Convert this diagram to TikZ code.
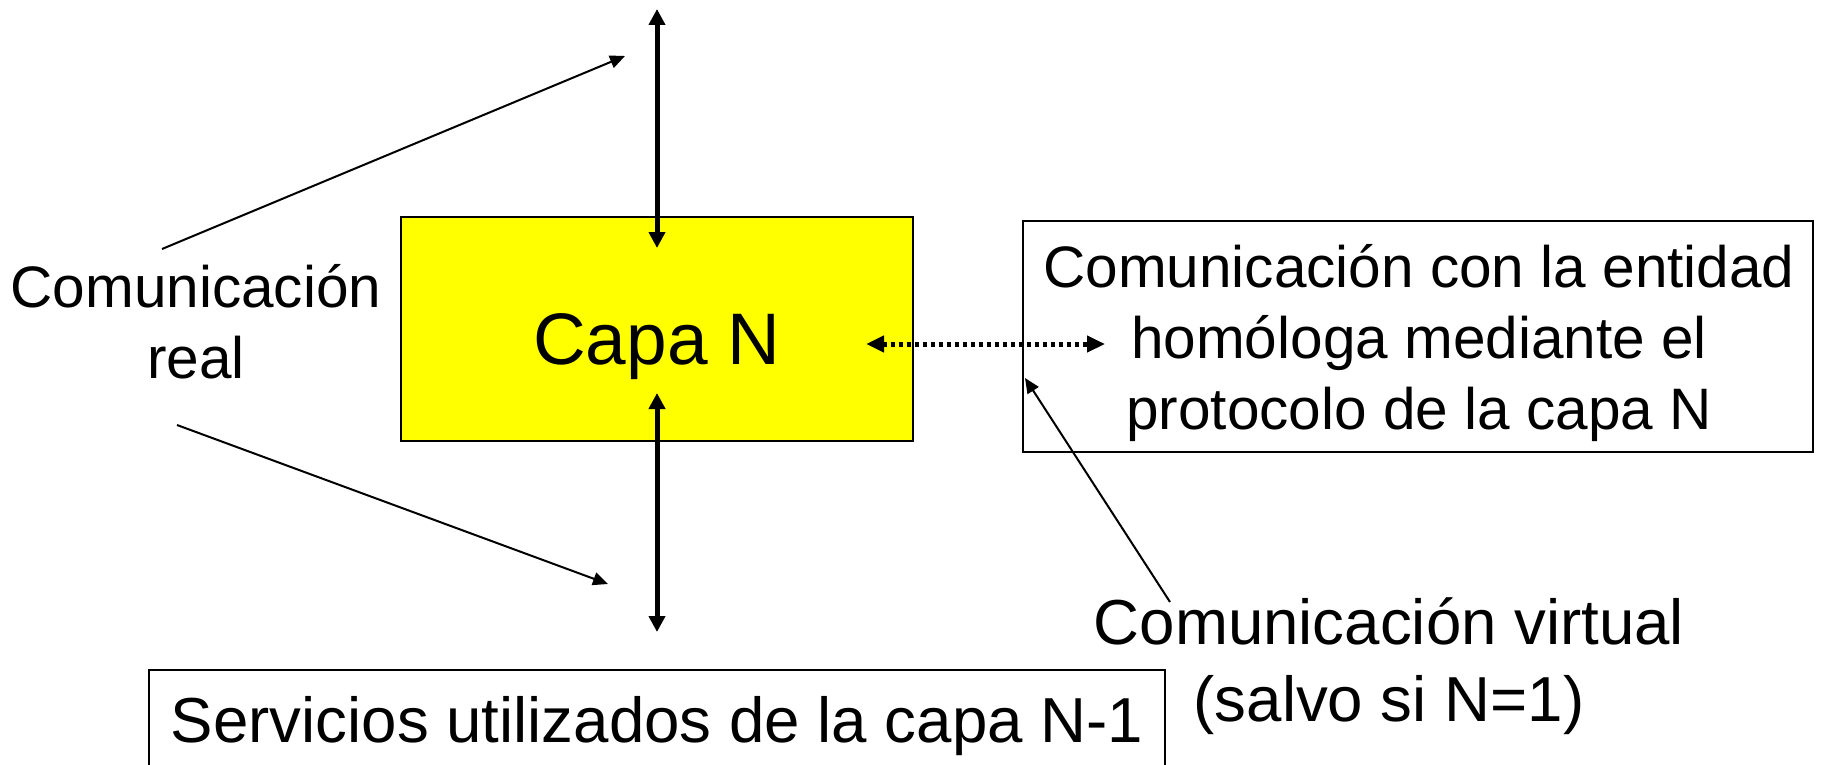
\documentclass[tikz,border=0pt]{standalone}
\usepackage{fontspec}
\setmainfont{Liberation Sans}
\usetikzlibrary{arrows.meta}
\definecolor{capayellow}{RGB}{255,255,0}
\tikzset{
  bigarrow/.style={line width=5pt, {Triangle[length=16pt,width=16pt]}-{Triangle[length=16pt,width=16pt]}},
  thinarrow/.style={line width=2pt, -{Triangle[length=15pt,width=13pt]}},
  dotarrow/.style={line width=5pt, dash pattern=on 4.5pt off 3.5pt, {Triangle[length=18pt,width=16pt]}-{Triangle[length=18pt,width=16pt]}},
  framebox/.style={draw, line width=2pt, inner sep=0pt},
  lblA/.style={font=\fontsize{58.5}{71}\selectfont, align=center, inner sep=0pt},
  lblB/.style={font=\fontsize{63.6}{77}\selectfont, align=center, inner sep=0pt},
}
\begin{document}
\begin{tikzpicture}[x=1pt,y=-1pt]
\useasboundingbox (0,0) rectangle (1821,765);
% yellow layer box
\node[framebox, fill=capayellow, minimum width=512pt, minimum height=224pt] (capa) at (657,329) {};
\node[font=\fontsize{73}{80}\selectfont, anchor=base, inner sep=0pt] (capatxt) at (657,364) {Capa N};
% right box
\node[framebox, minimum width=790pt, minimum height=231pt] (peer) at (1418,336.5) {};
\node[lblA] (peertxt) at (1419,343) {Comunicación con la entidad\\homóloga mediante el\\protocolo de la capa N};
% bottom box
\node[framebox, minimum width=1016pt, minimum height=210pt] (serv) at (657,775) {};
\node[font=\fontsize{63.6}{73}\selectfont, anchor=base, inner sep=0pt] (servtxt) at (657,742) {Servicios utilizados de la capa N-1};
% labels
\node[lblA] (real) at (196,322) {Comunicación\\real};
\node[lblB] (virt) at (1389,666) {Comunicación virtual\\(salvo si N=1)};
% coordinates
\coordinate (vt) at (657,9);
\coordinate (vb) at (657,248);
\coordinate (wt) at (657,393);
\coordinate (wb) at (657,632);
\coordinate (ra1) at (162,249);
\coordinate (ra1t) at (625,56);
\coordinate (ra2) at (177,425);
\coordinate (ra2t) at (608,584);
\coordinate (d1) at (866,344);
\coordinate (d2) at (1105,344);
\coordinate (vp) at (1170,602);
\coordinate (vpt) at (1025,378);
% connectors
\draw[bigarrow] (vt) -- (vb);
\draw[bigarrow] (wt) -- (wb);
\draw[thinarrow] (ra1) -- (ra1t);
\draw[thinarrow] (ra2) -- (ra2t);
\draw[dotarrow] (d1) -- (d2);
\draw[thinarrow] (vp) -- (vpt);
\end{tikzpicture}
\end{document}
